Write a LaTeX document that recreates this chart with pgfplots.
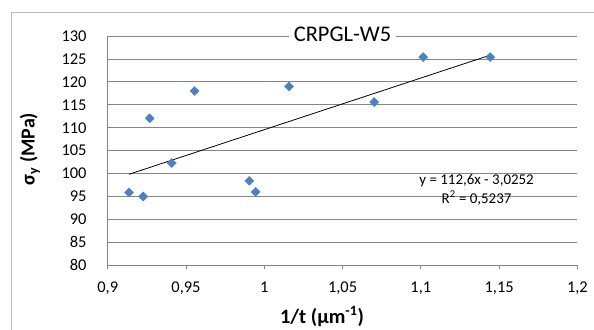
\documentclass[border=0pt]{standalone}
\usepackage{pgfplots}
\pgfplotsset{compat=1.18}
\usepackage{fontspec}
\setmainfont{Carlito}
\definecolor{mblue}{RGB}{79,129,189}
\definecolor{gridc}{RGB}{134,134,134}
\definecolor{framec}{RGB}{190,190,190}
\begin{document}
\begin{tikzpicture}[x=1bp,y=1bp]
\useasboundingbox (0,0) rectangle (594,329);
\draw[framec, line width=0.75bp] (11,-5) -- (11,317) -- (600,317);
\begin{axis}[
  at={(107.7bp,63.7bp)}, anchor=south west,
  scale only axis, width=469.7bp, height=229.3bp,
  xmin=0.9, xmax=1.2, ymin=80, ymax=130,
  xtick={0.9,0.95,1,1.05,1.1,1.15,1.2},
  xticklabels={{0,9},{0,95},{1},{1,05},{1,1},{1,15},{1,2}},
  ytick={80,85,...,130},
  /pgf/number format/assume math mode=true,
  ymajorgrids, grid style={gridc, line width=0.75bp},
  axis x line*=bottom, axis y line*=left,
  axis line style={gridc, line width=0.75bp, -},
  x tick style={gridc, line width=0.75bp},
  y tick style={draw=none},
  tick align=outside, major tick length=4bp,
  ticklabel style={font=\fontsize{16.5}{18}\selectfont, text=black},
  yticklabel style={inner sep=0pt, anchor=east, xshift=-17bp},
  xticklabel style={inner sep=0pt, anchor=north, yshift=-12.4bp},
  clip=false,
]
\addplot[only marks, mark=square*, mark size=3.2bp, mark options={rotate=45, fill=mblue, draw=mblue}] coordinates {
(0.9136,95.9) (0.9227,95.0) (0.9268,112.05) (0.9409,102.3) (0.9555,118.0)
(0.9904,98.4) (0.9945,96.0) (1.0158,119.0) (1.0702,115.6) (1.1015,125.4) (1.1443,125.4)
};
\addplot[black, line width=0.8bp] coordinates {(0.9136,99.846) (1.1443,125.823)};
\node[fill=white, inner xsep=5bp, inner ysep=2bp, font=\fontsize{22.5}{24}\selectfont] at (axis cs:1.05,130) [yshift=2bp] {CRPGL-W5};
\node[font=\fontsize{15}{19}\selectfont, align=center, inner sep=0pt] at (axis cs:1.1356,96.5) {y = 112,6x - 3,0252\\ R\textsuperscript{2} = 0,5237};
\end{axis}
\node[rotate=90, font=\bfseries\fontsize{20}{22}\selectfont] at (30,180) {σ\textsubscript{y} (MPa)};
\node[font=\bfseries\fontsize{20.5}{22}\selectfont] at (322,12.3) {1/t (µm\textsuperscript{-1})};
\end{tikzpicture}
\end{document}
